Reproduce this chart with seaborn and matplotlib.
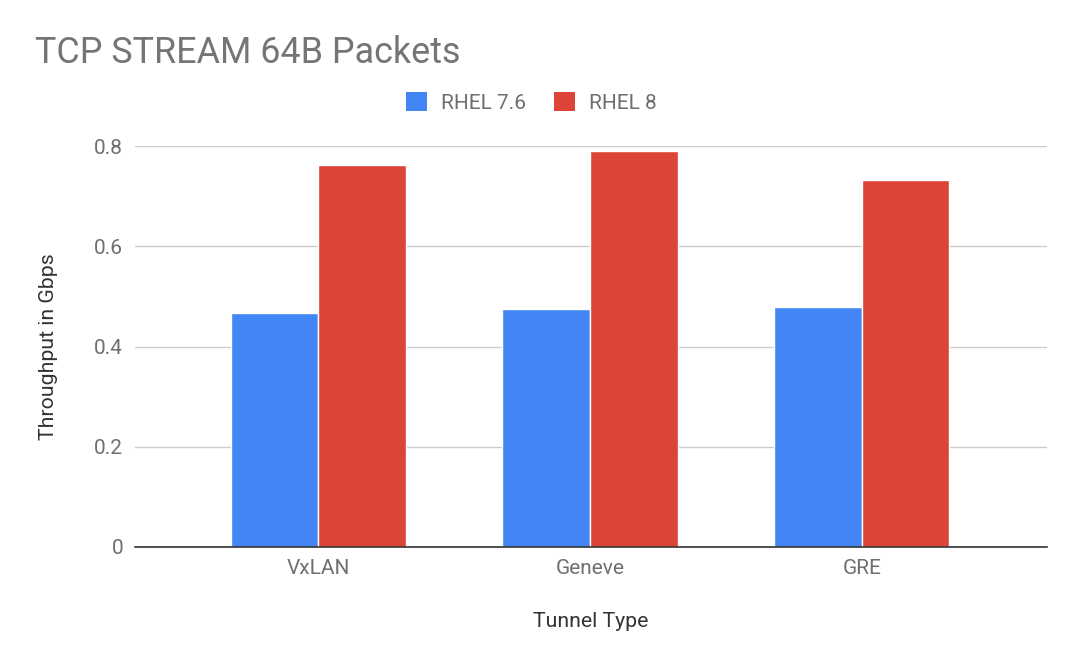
import matplotlib
matplotlib.use("Agg")
import matplotlib.pyplot as plt
import seaborn as sns
import pandas as pd
from matplotlib.patches import Patch

categories = ["VxLAN", "Geneve", "GRE"]
rhel76 = [0.467, 0.474, 0.478]
rhel8 = [0.763, 0.791, 0.732]
series_names = ["RHEL 7.6", "RHEL 8"]
y_ticks = [0, 0.2, 0.4, 0.6, 0.8]
y_tick_labels = ["0", "0.2", "0.4", "0.6", "0.8"]

df = pd.DataFrame({
    "Tunnel Type": categories * 2,
    "Throughput": rhel76 + rhel8,
    "Series": [series_names[0]] * 3 + [series_names[1]] * 3,
})

sns.set_theme(style="white")
plt.rcParams["font.family"] = ["Roboto", "DejaVu Sans"]

fig = plt.figure(figsize=(10.8, 6.67), dpi=100)
ax = fig.add_axes([0.125, 0.180, 0.844, 0.601])

sns.barplot(data=df, x="Tunnel Type", y="Throughput", hue="Series",
            palette=["#4285F4", "#DB4437"], saturation=1, width=0.645, ax=ax,
            edgecolor="white", linewidth=1, legend=False, zorder=3)

ax.set_ylim(0, 0.8)
ax.set_xlim(-0.675, 2.68)
ax.set_yticks(y_ticks)
ax.set_yticklabels(y_tick_labels)
ax.yaxis.grid(True, color="#cccccc", linewidth=1, zorder=0)
ax.set_axisbelow(True)
for s in ["top", "right", "left"]:
    ax.spines[s].set_visible(False)
ax.spines["bottom"].set_color("#333333")
ax.spines["bottom"].set_linewidth(1.2)
ax.spines["bottom"].set_zorder(5)
ax.tick_params(axis="both", length=0, labelsize=15, colors="#6f6f6f")
ax.tick_params(axis="x", pad=9)
ax.tick_params(axis="y", pad=8.5)

ax.set_xlabel("Tunnel Type", fontsize=15.3, color="#333333", labelpad=24)
ax.set_ylabel("Throughput in Gbps", fontsize=15.3, color="#333333", labelpad=26)

fig.text(0.032, 0.92, "TCP STREAM 64B Packets", fontsize=25.8, color="#757575",
         ha="left", va="center")

handles = [Patch(facecolor="#4285F4", edgecolor="none"),
           Patch(facecolor="#DB4437", edgecolor="none")]
fig.legend(handles, series_names, loc="center", bbox_to_anchor=(0.492, 0.846),
           ncol=2, frameon=False, fontsize=15, handlelength=1.0, handleheight=1.0,
           handletextpad=0.67, columnspacing=1.33, labelcolor="#6f6f6f")

fig.savefig("out.png", dpi=100)
